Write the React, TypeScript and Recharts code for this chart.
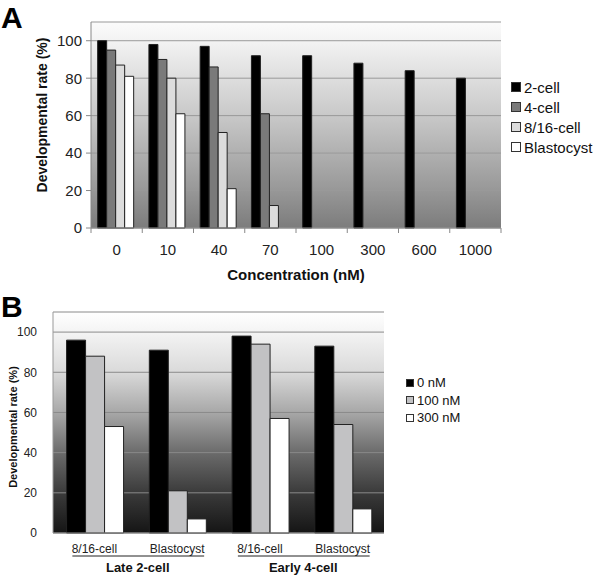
import React from 'react';
import { BarChart, Bar, XAxis, YAxis, CartesianGrid, Legend, Label } from 'recharts';

// ---------- Panel A data ----------
const concentrations = ['0', '10', '40', '70', '100', '300', '600', '1000'];
const cell2 = [100, 98, 97, 92, 92, 88, 84, 80];
const cell4 = [95, 90, 86, 61, null, null, null, null];
const cell816 = [87, 80, 51, 12, null, null, null, null];
const blastocyst = [81, 61, 21, 0, null, null, null, null];
const seriesA = ['2-cell', '4-cell', '8/16-cell', 'Blastocyst'];
const yTicks = [0, 20, 40, 60, 80, 100];

// ---------- Panel B data ----------
const stagesB = ['8/16-cell', 'Blastocyst', '8/16-cell', 'Blastocyst'];
const groupsB = ['Late 2-cell', 'Late 2-cell', 'Early 4-cell', 'Early 4-cell'];
const dose0 = [96, 91, 98, 93];
const dose100 = [88, 21, 94, 54];
const dose300 = [53, 7, 57, 12];
const seriesB = ['0 nM', '100 nM', '300 nM'];

const dataA = concentrations.map((c, i) => ({
  conc: c,
  c2: cell2[i],
  c4: cell4[i],
  c816: cell816[i],
  bl: blastocyst[i],
}));

const dataB = stagesB.map((s, i) => ({
  key: i,
  stage: s,
  group: groupsB[i],
  d0: dose0[i],
  d100: dose100[i],
  d300: dose300[i],
}));

const FONT = 'Arial, "Liberation Sans", Helvetica, sans-serif';

// layout
const A_W = 600, A_H = 290, A_LEFT = 91, A_RIGHT = 501, A_TOP = 22, A_BOTTOM = 228;
const BAND_A = (A_RIGHT - A_LEFT) / concentrations.length;
const B_W = 600, B_H = 297, B_LEFT = 53, B_RIGHT = 384, B_TOP = 22, B_BOTTOM = 243;
const BAND_B = (B_RIGHT - B_LEFT) / stagesB.length;

function TickA(props: any) {
  const { x, y, payload, index } = props;
  const h = BAND_A / 2;
  return (
    <g>
      <line x1={x - h} x2={x - h} y1={y} y2={y + 5} stroke="#888" />
      {index === concentrations.length - 1 && (
        <line x1={x + h} x2={x + h} y1={y} y2={y + 5} stroke="#888" />
      )}
      <text x={x} y={y + 27} textAnchor="middle" fontSize={15} fill="#222" fontFamily={FONT}>
        {payload.value}
      </text>
    </g>
  );
}

function TickB(props: any) {
  const { x, y, index } = props;
  const stage = stagesB[index];
  const group = groupsB[index];
  const closesGroup = index > 0 && groupsB[index - 1] === group;
  return (
    <g>
      <text x={x} y={y + 20} textAnchor="middle" fontSize={12} fill="#222" fontFamily={FONT}>
        {stage}
      </text>
      {closesGroup && (
        <g>
          <line x1={x - BAND_B - 22} x2={x + 27} y1={y + 23} y2={y + 23} stroke="#222" strokeWidth={1} />
          <text
            x={x - BAND_B / 2 + 2}
            y={y + 39}
            textAnchor="middle"
            fontSize={13}
            fontWeight="bold"
            fill="#111"
            fontFamily={FONT}
          >
            {group}
          </text>
        </g>
      )}
    </g>
  );
}

function LegendList(props: any) {
  const { payload, fs, row, box } = props;
  return (
    <div style={{ fontFamily: FONT, fontSize: fs, color: '#111' }}>
      {(payload || []).map((e: any, i: number) => (
        <div key={i} style={{ display: 'flex', alignItems: 'center', height: row, whiteSpace: 'nowrap' }}>
          <span
            style={{
              display: 'inline-block',
              width: box,
              height: box,
              background: e.color,
              border: '1px solid #333',
              boxSizing: 'border-box',
              marginRight: 3,
            }}
          />
          <span>{e.value}</span>
        </div>
      ))}
    </div>
  );
}

export default function App() {
  return (
    <div style={{ position: 'absolute', left: 0, top: 0, width: 600, height: 587, background: '#fff', fontFamily: FONT }}>
      <div style={{ position: 'absolute', left: 1, top: 3, fontSize: 30, lineHeight: '30px', fontWeight: 'bold', color: '#000' }}>A</div>
      <div style={{ position: 'absolute', left: 1, top: 292, fontSize: 30, lineHeight: '30px', fontWeight: 'bold', color: '#000' }}>B</div>

      <div style={{ position: 'absolute', left: 0, top: 0 }}>
        <BarChart
          width={A_W}
          height={A_H}
          data={dataA}
          margin={{ top: A_TOP, right: A_W - A_RIGHT, left: 0, bottom: 0 }}
          barCategoryGap="13%"
          barGap={0}
        >
          <defs>
            <linearGradient id="bgA" x1="0" y1="0" x2="0" y2="1">
              <stop offset="0%" stopColor="#fbfbfb" />
              <stop offset="10%" stopColor="#f2f2f2" />
              <stop offset="45%" stopColor="#c9c9c9" />
              <stop offset="80%" stopColor="#9a9a9a" />
              <stop offset="100%" stopColor="#7c7c7c" />
            </linearGradient>
          </defs>
          <CartesianGrid vertical={false} stroke="#999" fill="url(#bgA)" />
          <XAxis
            dataKey="conc"
            height={A_H - A_BOTTOM}
            axisLine={{ stroke: '#888' }}
            tickLine={false}
            tickSize={0}
            tickMargin={0}
            tick={<TickA />}
            interval={0}
          >
            <Label
              content={() => (
                <text x={(A_LEFT + A_RIGHT) / 2} y={280} textAnchor="middle" fontSize={15} fontWeight="bold" fill="#111" fontFamily={FONT}>
                  Concentration (nM)
                </text>
              )}
            />
          </XAxis>
          <YAxis
            width={A_LEFT}
            domain={[0, 110]}
            ticks={yTicks}
            axisLine={{ stroke: '#888' }}
            tickLine={{ stroke: '#888' }}
            tickSize={5}
            tickMargin={4}
            tick={{ fontSize: 15, fill: '#222', fontFamily: FONT }}
          >
            <Label
              content={() => (
                <text
                  x={47}
                  y={115}
                  transform="rotate(-90 47 115)"
                  textAnchor="middle"
                  fontSize={14}
                  fontWeight="bold"
                  fill="#111"
                  fontFamily={FONT}
                >
                  Developmental rate (%)
                </text>
              )}
            />
          </YAxis>
          <Legend
            layout="vertical"
            align="center"
            verticalAlign="middle"
            wrapperStyle={{ left: 511, top: 77, width: 90 }}
            content={<LegendList fs={15} row={20} box={10} />}
          />
          <Bar dataKey="c2" name={seriesA[0]} fill="#000" stroke="#222" strokeWidth={1} isAnimationActive={false} />
          <Bar dataKey="c4" name={seriesA[1]} fill="#7a7a7a" stroke="#222" strokeWidth={1} isAnimationActive={false} />
          <Bar dataKey="c816" name={seriesA[2]} fill="#dcdcdc" stroke="#222" strokeWidth={1} isAnimationActive={false} />
          <Bar dataKey="bl" name={seriesA[3]} fill="#fff" stroke="#222" strokeWidth={1} isAnimationActive={false} />
        </BarChart>
      </div>

      <div style={{ position: 'absolute', left: 0, top: 290 }}>
        <BarChart
          width={B_W}
          height={B_H}
          data={dataB}
          margin={{ top: B_TOP, right: B_W - B_RIGHT, left: 0, bottom: 0 }}
          barCategoryGap="16.4%"
          barGap={0}
        >
          <defs>
            <linearGradient id="bgB" x1="0" y1="0" x2="0" y2="1">
              <stop offset="0%" stopColor="#ffffff" />
              <stop offset="9%" stopColor="#f4f4f4" />
              <stop offset="27%" stopColor="#dadada" />
              <stop offset="45%" stopColor="#a9a9a9" />
              <stop offset="64%" stopColor="#6a6a6a" />
              <stop offset="82%" stopColor="#3a3a3a" />
              <stop offset="100%" stopColor="#151515" />
            </linearGradient>
          </defs>
          <CartesianGrid vertical={false} stroke="#8a8a8a" fill="url(#bgB)" />
          <XAxis
            dataKey="key"
            height={B_H - B_BOTTOM}
            axisLine={{ stroke: '#888' }}
            tickLine={false}
            tickSize={0}
            tickMargin={0}
            tick={<TickB />}
            interval={0}
          />
          <YAxis
            width={B_LEFT}
            domain={[0, 110]}
            ticks={yTicks}
            axisLine={{ stroke: '#999' }}
            tickLine={false}
            tickSize={0}
            tickMargin={16}
            tick={{ fontSize: 12, fill: '#222', fontFamily: FONT }}
          >
            <Label
              content={() => (
                <text
                  x={17}
                  y={137}
                  transform="rotate(-90 17 137)"
                  textAnchor="middle"
                  fontSize={11}
                  fontWeight="bold"
                  fill="#111"
                  fontFamily={FONT}
                >
                  Developmental rate (%)
                </text>
              )}
            />
          </YAxis>
          <YAxis
            yAxisId="right"
            orientation="right"
            width={0}
            domain={[0, 110]}
            tick={false}
            tickLine={false}
            axisLine={{ stroke: '#bbb' }}
          />
          <Legend
            layout="vertical"
            align="center"
            verticalAlign="middle"
            wrapperStyle={{ left: 406, top: 84, width: 90 }}
            content={<LegendList fs={13} row={17.5} box={8} />}
          />
          <Bar dataKey="d0" name={seriesB[0]} fill="#000" stroke="#222" strokeWidth={1} isAnimationActive={false} />
          <Bar dataKey="d100" name={seriesB[1]} fill="#c2c2c4" stroke="#222" strokeWidth={1} isAnimationActive={false} />
          <Bar dataKey="d300" name={seriesB[2]} fill="#fff" stroke="#222" strokeWidth={1} isAnimationActive={false} />
        </BarChart>
      </div>
    </div>
  );
}
